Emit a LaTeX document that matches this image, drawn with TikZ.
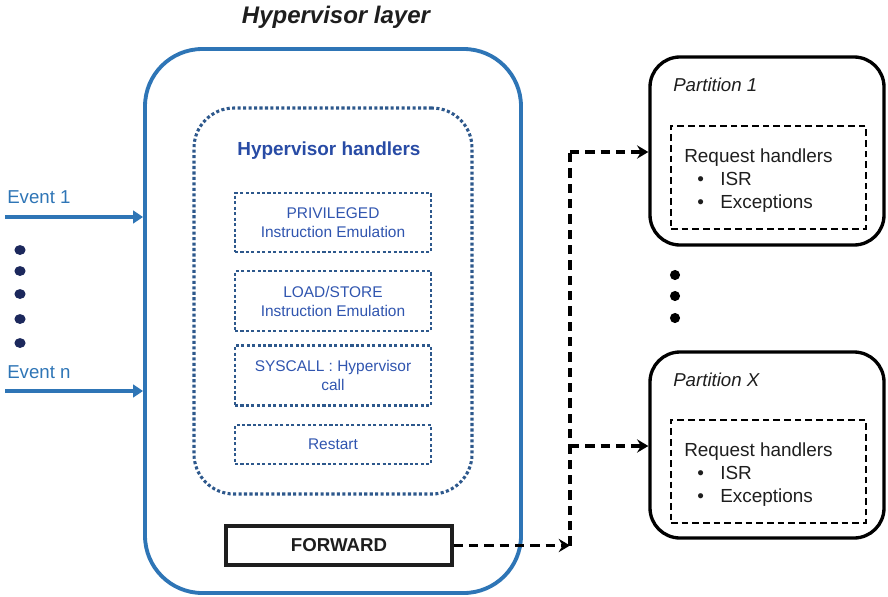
\documentclass[tikz,border=0pt]{standalone}
\usepackage{fontspec}
\setmainfont{Liberation Sans}
\usetikzlibrary{arrows.meta}

\definecolor{layerblue}{RGB}{46,117,182}
\definecolor{handlerline}{RGB}{45,88,140}
\definecolor{handlerhead}{RGB}{40,75,165}
\definecolor{handlertext}{RGB}{48,85,175}
\definecolor{leftdots}{RGB}{28,40,92}
\definecolor{inktext}{RGB}{30,30,30}

\begin{document}
\begin{tikzpicture}[x=0.75pt,y=-0.75pt,
  layerbox/.style={draw=layerblue, line width=2.9pt, rounded corners=43pt,
    minimum width=282pt, minimum height=408pt, inner sep=0pt},
  handlergroup/.style={draw=handlerline, line width=2.3pt, rounded corners=30pt,
    dash pattern=on 2.3pt off 1.8pt, minimum width=208.5pt, minimum height=289.5pt, inner sep=0pt},
  handlerbox/.style={draw=handlerline, line width=2.2pt, dash pattern=on 2.3pt off 1.8pt,
    minimum width=147pt, inner sep=0pt, align=center, text=handlertext,
    font=\fontsize{11.6pt}{14.25pt}\selectfont},
  fwdbox/.style={draw=inktext, line width=2.4pt, minimum width=169.5pt, minimum height=29.25pt,
    inner sep=0pt, font=\fontsize{14pt}{16pt}\selectfont\bfseries, text=inktext},
  partbox/.style={draw=black, line width=2.5pt, rounded corners=22.5pt,
    minimum width=175.5pt, inner sep=0pt},
  reqbox/.style={draw=black, line width=1.7pt, dash pattern=on 5pt off 3pt,
    minimum width=146.25pt, minimum height=77.25pt, inner sep=0pt},
  parttitle/.style={anchor=base west, inner sep=0pt, text=inktext,
    font=\fontsize{14pt}{16pt}\selectfont\itshape},
  reqtext/.style={anchor=base west, inner sep=0pt, text=inktext,
    font=\fontsize{14.2pt}{17pt}\selectfont},
  eventtext/.style={anchor=base west, inner sep=0pt, text=layerblue,
    font=\fontsize{14pt}{16pt}\selectfont},
  eventarrow/.style={draw=layerblue, line width=2.6pt,
    -{Triangle[length=7.5pt,width=9.5pt]}},
  fwdline/.style={draw=black, line width=2.5pt, dash pattern=on 7pt off 4.5pt,
    -{Stealth[length=8.5pt,width=10pt,inset=3pt]}},
]
\useasboundingbox (0,0) rectangle (888,596);

% title of the hypervisor layer
\node[anchor=base, inner sep=0pt, text=inktext,
  font=\fontsize{18pt}{20pt}\selectfont\bfseries\itshape] (title) at (336,23) {Hypervisor layer};

% hypervisor layer and its handlers
\node[layerbox] (hyp) at (333,321) {};
\node[handlergroup] (group) at (333,301) {};
\node[anchor=base, inner sep=0pt, text=handlerhead,
  font=\fontsize{14.2pt}{16pt}\selectfont\bfseries] (grouphead) at (329,155) {Hypervisor handlers};

\node[handlerbox, minimum height=44.25pt] (priv) at (333,222.5) {PRIVILEGED\\Instruction Emulation};
\node[handlerbox, minimum height=45pt] (loadstore) at (333,301) {LOAD/STORE\\Instruction Emulation};
\node[handlerbox, minimum height=45pt] (syscall) at (333,375.5) {SYSCALL : Hypervisor\\call};
\node[handlerbox, minimum height=29.25pt] (restart) at (333,444.5) {Restart};

\node[fwdbox] (fwd) at (339,545.5) {FORWARD};

% incoming events
\node[eventtext] (ev1) at (7,203) {Event 1};
\node[eventtext] (evn) at (7,378) {Event n};
\coordinate (ev1start) at (5,217);
\coordinate (evnstart) at (5,391);
\draw[eventarrow] (ev1start) -- (ev1start -| hyp.west);
\draw[eventarrow] (evnstart) -- (evnstart -| hyp.west);

\foreach \yy in {250,271,294,319,343}
  \fill[leftdots] (20,\yy) ellipse [x radius=4.2pt, y radius=3.7pt];

% partitions
\node[partbox, minimum height=141pt] (p1) at (767,151) {};
\node[parttitle] (p1title) at (673,91) {Partition 1};
\node[reqbox] (req1) at (768.5,177.5) {};
\node[reqtext] (req1a) at (684,162.5) {Request handlers};
\node[reqtext] (req1b) at (697,185) {\textbullet};
\node[reqtext] (req1c) at (720,185) {ISR};
\node[reqtext] (req1d) at (697,208.5) {\textbullet};
\node[reqtext] (req1e) at (720,208.5) {Exceptions};

\node[partbox, minimum height=139.5pt] (px) at (767,445) {};
\node[parttitle] (pxtitle) at (673,386) {Partition X};
\node[reqbox] (reqx) at (768.5,471.5) {};
\node[reqtext] (reqxa) at (684,456) {Request handlers};
\node[reqtext] (reqxb) at (697,479) {\textbullet};
\node[reqtext] (reqxc) at (720,479) {ISR};
\node[reqtext] (reqxd) at (697,502) {\textbullet};
\node[reqtext] (reqxe) at (720,502) {Exceptions};

\foreach \yy in {275,296,318}
  \fill[black] (675,\yy) circle [radius=3.8pt];

% forwarding paths to the partitions
\coordinate (junc) at (570,545.5);
\coordinate (jtop) at (570,152);
\coordinate (jmid) at (570,446);
\draw[fwdline] (fwd.east) -- (junc);
\draw[fwdline, -] (junc) -- (jtop);
\draw[fwdline] (jtop) -- (jtop -| p1.west);
\draw[fwdline] (jmid) -- (jmid -| px.west);
\end{tikzpicture}
\end{document}
